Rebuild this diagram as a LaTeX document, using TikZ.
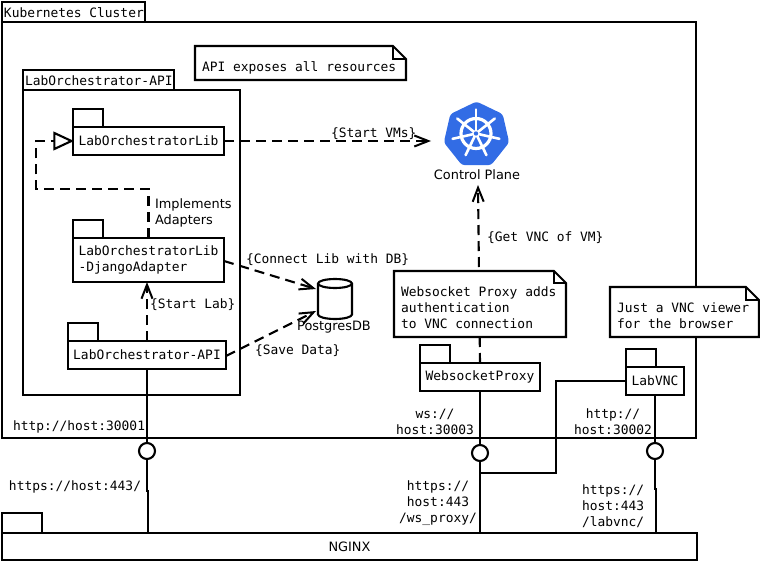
\documentclass[tikz,border=0pt]{standalone}
\usepackage{fontspec}
\setmainfont{DejaVu Sans}
\setmonofont{DejaVu Sans Mono}
\usetikzlibrary{arrows.meta,shapes.geometric,calc}
\definecolor{kblue}{HTML}{326CE5}
\tikzset{
  ln/.style={line width=2.1pt,line join=miter},
  boxn/.style={ln,draw,rectangle,inner sep=0pt,outer sep=0pt,anchor=north west,align=left,font=\fontsize{12.9}{16}\selectfont\ttfamily},
  plain/.style={inner sep=0pt,outer sep=0pt,align=left,font=\fontsize{12.9}{16}\selectfont\ttfamily},
  sans/.style={inner sep=0pt,outer sep=0pt,align=left,font=\fontsize{12.9}{16}\selectfont},
  dep/.style={ln,dash pattern=on 10pt off 6pt},
  barb/.style={-{Straight Barb[length=14pt,width=11pt,line width=2pt]}},
  lolly/.style={ln,draw,circle,fill=white,minimum size=16pt,inner sep=0pt,outer sep=0pt},
  notef/.style={ln,fill=white,line join=miter}
}
\newcommand{\pkgbox}[8]{%
  \node[boxn,minimum width=#6 pt,minimum height=#7 pt] (#1tab) at (#2,#3-#7) {};
  \node[boxn,minimum width=#4 pt-#2 pt,minimum height=#5 pt-#3 pt] (#1) at (#2,#3) {#8};
}
% \notebox{name}{x1}{y1}{x2}{y2}{fold}{text x,y}{text}
\newcommand{\notebox}[8]{%
  \filldraw[notef] (#2,#3) -- (#4-#6,#3) -- (#4,#3+#6) -- (#4,#5) -- (#2,#5) -- cycle;
  \draw[ln] (#4-#6,#3) -- (#4-#6,#3+#6) -- (#4,#3+#6);
  \node[plain,anchor=west] (#1) at (#7) {#8};
}
\begin{document}
\begin{tikzpicture}[x=1pt,y=-1pt]
\useasboundingbox (0,0) rectangle (760,561);
% frames
\node[boxn,minimum width=143pt,minimum height=20pt] (kubetab) at (2,2) {};
\node[boxn,minimum width=694pt,minimum height=416pt] (kube) at (2,22) {};
\node[boxn,minimum width=151pt,minimum height=20pt] (apiftab) at (23,70) {};
\node[boxn,minimum width=217pt,minimum height=305pt] (apif) at (23,90) {};
\node[plain,anchor=west] (kubetxt) at (4,12.5) {Kubernetes Cluster};
\node[plain,anchor=west] (apiftxt) at (25,81) {LabOrchestrator-API};
% packages
\pkgbox{lib}{73}{127}{224}{155}{30}{18}{LabOrchestratorLib}
\pkgbox{dj}{73}{238}{224}{282}{30}{18}{LabOrchestratorLib\\-DjangoAdapter}
\pkgbox{api}{68}{341}{226}{369}{30}{18}{LabOrchestrator-API}
\pkgbox{ws}{420}{363}{540}{391}{30}{18}{WebsocketProxy}
\pkgbox{vnc}{626}{367}{684}{395}{30}{18}{LabVNC}
\pkgbox{nginx}{2}{533}{697}{560}{40}{20}{}
\node[sans] (nginxtxt) at (349.5,547) {NGINX};
% control plane
\node[regular polygon,regular polygon sides=7,fill=kblue,minimum size=67pt,inner sep=0pt,outer sep=0pt,rounded corners=3pt] (cp) at (476.5,135) {};
\coordinate (wh) at (476,133.5);
\draw[white,line width=3.2pt] (wh) circle (15);
\fill[white] (wh) circle (3.6);
\foreach \a in {90,141.43,192.86,244.29,295.71,347.14,38.57}
  \draw[white,line width=2.6pt,line cap=round] (wh) -- ($(wh)+({24*cos(\a)},{-24*sin(\a)})$);
\fill[kblue] (wh) circle (2.2);
\node[sans] (cptxt) at (477,174.5) {Control Plane};
\coordinate (cpw) at (431,141);
\coordinate (cps) at (478,185);
% database
\node[inner sep=0pt,outer sep=0pt,minimum width=34pt,minimum height=40pt] (db) at (335,299) {};
\draw[ln] (db.north west) ++(0,4.5) arc[start angle=180,end angle=0,x radius=17,y radius=-4.5]
   -- ++(0,31) arc[start angle=0,end angle=-180,x radius=17,y radius=-4.5] -- cycle;
\draw[ln] (db.north west) ++(0,4.5) arc[start angle=180,end angle=360,x radius=17,y radius=-4.5];
\node[sans] (dbtxt) at (334,327) {PostgresDB};
\coordinate (dbin) at (316,289);
\coordinate (dbout) at (316,311);
% dependency connectors
\draw[dep,barb] (lib.east) -- (cpw);
\draw[dep,barb] (dj.east |- 0,261) -- (dbin);
\draw[dep,barb] (api.east |- 0,356) -- (dbout);
\draw[dep,barb] (api.north) -- (api.north |- dj.south);
\draw[dep,barb] (ws.north) -- (cps);
\draw[dep] (dj.north) -- (dj.north |- 0,189) -- (36,189) -- (36,141) -- (54,141);
\node[ln,draw,isosceles triangle,isosceles triangle apex angle=50,fill=white,minimum height=17pt,minimum width=16pt,inner sep=0pt,outer sep=0pt,anchor=apex] (impl) at (71.5,141) {};
% lollipops
\node[lolly] (c1) at (147,451) {};
\node[lolly] (c2) at (480,453) {};
\node[lolly] (c3) at (655,451) {};
\draw[ln] (api.south) -- (c1.north);
\draw[ln] (ws.south) -- (c2.north);
\draw[ln] (vnc.south) -- (c3.north);
\draw[ln] (c1.south) -- ++(0,32) -- ++(1,0) -- (148,533);
\draw[ln] (c2.south) -- (480,533);
\draw[ln] (c3.south) -- ++(0,30) -- ++(1,0) -- (656,533);
\draw[ln] (vnc.west |- 0,381) -- (556,381) -- (556,473) -- (480,473);
% notes
\notebox{n1}{195}{46}{406}{80}{13}{202,67.5}{API exposes all resources}
\notebox{n2}{394}{271}{566}{337}{12}{401,308}{Websocket Proxy adds\\authentication\\to VNC connection}
\notebox{n3}{610}{287}{759}{337}{13}{617,316}{Just a VNC viewer\\for the browser}
% labels
\node[sans,anchor=west] (limpl) at (155,213) {Implements\\Adapters};
\node[plain,anchor=west] (lvm) at (331,133.5) {\{Start VMs\}};
\node[plain,anchor=west] (lcon) at (246,259.5) {\{Connect Lib with DB\}};
\node[plain,anchor=west] (lget) at (487,238) {\{Get VNC of VM\}};
\node[plain,anchor=west] (lstart) at (150,304.5) {\{Start Lab\}};
\node[plain,anchor=west] (lsave) at (255,351) {\{Save Data\}};
\node[plain,anchor=west] (l1) at (13,427) {http://host:30001};
\node[plain,anchor=west] (l2) at (9,487) {https://host:443/};
\node[plain,align=center] (l3) at (435,422) {ws://\\host:30003};
\node[plain,align=center] (l4) at (613,422) {http://\\host:30002};
\node[plain,align=center] (l5) at (438,503) {https://\\host:443\\/ws\_proxy/};
\node[plain,anchor=west] (l6) at (582,506) {https://\\host:443\\/labvnc/};
\end{tikzpicture}
\end{document}
